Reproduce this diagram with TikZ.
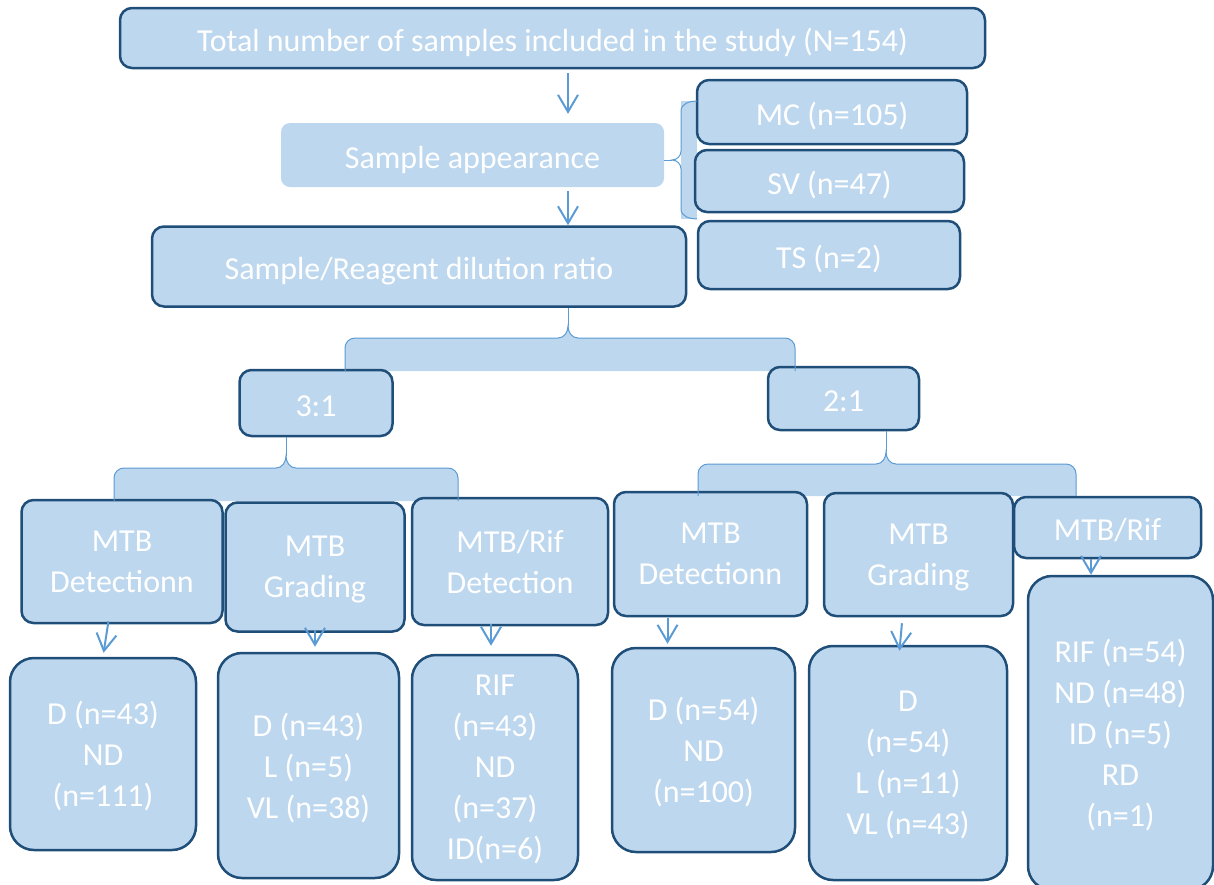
\documentclass[tikz,border=0pt]{standalone}
\usepackage{fontspec}
\setmainfont{Carlito}
\usepackage{xcolor}
\usepackage{tikz}
\usetikzlibrary{arrows.meta,positioning,backgrounds}
\definecolor{boxfill}{HTML}{BDD7EE}
\definecolor{boxline}{HTML}{1F4E79}
\definecolor{linkblue}{HTML}{5B9BD5}

\begin{document}
\begin{tikzpicture}[x=1pt, y=-1pt, font=\fontsize{32}{41}\selectfont]
    \tikzstyle{oneline} = [text height=26pt, text depth=0pt]
    \tikzstyle{lines} = [text depth=-3pt]
    \tikzstyle{stage} = [rectangle, rounded corners=12pt, draw=boxline, line width=2.5pt, fill=boxfill, text=white, align=center, inner sep=0pt]
    \tikzstyle{result} = [stage, rounded corners=24pt, lines]
    \tikzstyle{flat} = [rectangle, rounded corners=9pt, fill=boxfill, text=white, inner sep=0pt, oneline]
    \tikzstyle{arrow} = [line width=2pt, linkblue, -{Straight Barb[length=17pt, width=20pt]}]
    \tikzstyle{bracefill} = [fill=boxfill]
    \tikzstyle{braceline} = [draw=linkblue, line width=1pt]

    \clip (0,0) rectangle (1214,884);

    % top part
    \node (total) [stage, oneline, minimum width=865pt, minimum height=60pt] at (552.5,38) {Total number of samples included in the study (N=154)};
    \node (appear) [flat, minimum width=383pt, minimum height=64pt] at (472.5,155) {Sample appearance};
    \node (dilution) [stage, oneline, minimum width=534pt, minimum height=80pt] at (419,266.5) {Sample/Reagent dilution ratio};
    \node (mc) [stage, oneline, minimum width=270pt, minimum height=64pt] at (832,112) {MC (n=105)};
    \node (sv) [stage, oneline, minimum width=269pt, minimum height=62pt] at (829.5,181) {SV (n=47)};
    \node (ts) [stage, oneline, minimum width=262pt, minimum height=68pt] at (829,255) {TS (n=2)};

    % ratios
    \node (r31) [stage, oneline, minimum width=153pt, minimum height=66pt] at (316,403) {3:1};
    \node (r21) [stage, oneline, minimum width=151pt, minimum height=63pt] at (843.5,398.5) {2:1};

    % tests
    \node (det3) [stage, lines, minimum width=201pt, minimum height=123pt] at (122,561.5) {MTB\\Detectionn};
    \node (grad3) [stage, lines, minimum width=179pt, minimum height=129pt] at (315,567) {MTB\\Grading};
    \node (rif3) [stage, lines, minimum width=196pt, minimum height=127pt] at (510,561.5) {MTB/Rif\\Detection};
    \node (det2) [stage, lines, minimum width=193pt, minimum height=124pt] at (710.5,554) {MTB\\Detectionn};
    \node (grad2) [stage, lines, minimum width=189pt, minimum height=123pt] at (918.5,554.5) {MTB\\Grading};
    \node (rif2) [stage, oneline, minimum width=187pt, minimum height=61pt] at (1107.5,527.5) {MTB/Rif};

    % results
    \node (d3) [result, minimum width=186pt, minimum height=192pt] at (103,754) {D (n=43)\\ND\\(n=111)};
    \node (g3) [result, minimum width=181pt, minimum height=225pt] at (308.5,765.5) {D (n=43)\\L (n=5)\\VL (n=38)};
    \node (r3) [result, minimum width=166pt, minimum height=225pt] at (495,767.5) {RIF\\(n=43)\\ND\\(n=37)\\ID(n=6)};
    \node (d2) [result, minimum width=183pt, minimum height=204pt] at (703.5,750) {D (n=54)\\ND\\(n=100)};
    \node (g2) [result, minimum width=198pt, minimum height=234pt] at (908,763) {D\\(n=54)\\L (n=11)\\VL (n=43)};
    \node (r2) [result, minimum width=185pt, minimum height=314pt] at (1120.5,733) {RIF (n=54)\\ND (n=48)\\ID (n=5)\\RD\\(n=1)};

    \coordinate (axis) at (568,0);
    \coordinate (stem3) at (286,0);
    \coordinate (stem2) at (886,0);

    % braces
    \begin{scope}[on background layer]
        \path[bracefill] (681,101) -- (697,101) -- (697,219) -- (681,219) -- cycle;
        \path[bracefill] (345,371) -- (345,348) to[out=90,in=180] (355,338) -- (558,338) to[out=0,in=-90] (568,326) to[out=-90,in=180] (578,338) -- (785,338) to[out=0,in=90] (795,348) -- (795,371) -- cycle;
        \path[bracefill] (114,501) -- (114,478) to[out=90,in=180] (124,468) -- (276,468) to[out=0,in=-90] (286,456) to[out=-90,in=180] (296,468) -- (448,468) to[out=0,in=90] (458,478) -- (458,501) -- cycle;
        \path[bracefill] (698,496) -- (698,474) to[out=90,in=180] (708,464) -- (876,464) to[out=0,in=-90] (886,452) to[out=-90,in=180] (896,464) -- (1066,464) to[out=0,in=90] (1076,474) -- (1076,496) -- cycle;
    \end{scope}
    \draw[braceline] (697,101) to[out=180,in=90] (681,111) -- (681,151) to[out=-90,in=0] (672,160) to[out=0,in=90] (681,169) -- (681,209) to[out=-90,in=180] (697,219);
    \draw[braceline] (appear.east |- 0,160) -- (672,160);
    \draw[braceline] (345,371) -- (345,348) to[out=90,in=180] (355,338) -- (558,338) to[out=0,in=-90] (568,326) to[out=-90,in=180] (578,338) -- (785,338) to[out=0,in=90] (795,348) -- (795,371);
    \draw[braceline] (568,326) -- (dilution.south -| axis);
    \draw[braceline] (114,501) -- (114,478) to[out=90,in=180] (124,468) -- (276,468) to[out=0,in=-90] (286,456) to[out=-90,in=180] (296,468) -- (448,468) to[out=0,in=90] (458,478) -- (458,501);
    \draw[braceline] (286,456) -- (r31.south -| stem3);
    \draw[braceline] (698,496) -- (698,474) to[out=90,in=180] (708,464) -- (876,464) to[out=0,in=-90] (886,452) to[out=-90,in=180] (896,464) -- (1066,464) to[out=0,in=90] (1076,474) -- (1076,496);
    \draw[braceline] (886,452) -- (r21.south -| stem2);

    % arrows
    \draw[arrow, shorten <=4pt, shorten >=9pt] (total.south -| axis) -- (appear.north -| axis);
    \draw[arrow, shorten <=4pt] (appear.south -| axis) -- (dilution.north -| axis);
    \draw[arrow, shorten <=-3pt, shorten >=4pt] ([xshift=5pt]det3.south -| d3.north) -- (d3.north);
    \draw[arrow, shorten <=-3pt, shorten >=5pt] (grad3.south) -- (g3.north -| grad3.south);
    \draw[arrow, shorten <=-2pt, shorten >=8pt] (rif3.south -| 491,0) -- (r3.north -| 491,0);
    \draw[arrow, shorten <=1pt, shorten >=3pt] ([xshift=-36pt]d2.north |- det2.south) -- ([xshift=-36pt]d2.north);
    \draw[arrow, shorten <=6pt, shorten >=-6pt] ([xshift=-16pt]grad2.south) -- ([xshift=-8pt]g2.north);
    \draw[arrow] (rif2.south -| 1091,0) -- (r2.north -| 1091,0);
\end{tikzpicture}
\end{document}
